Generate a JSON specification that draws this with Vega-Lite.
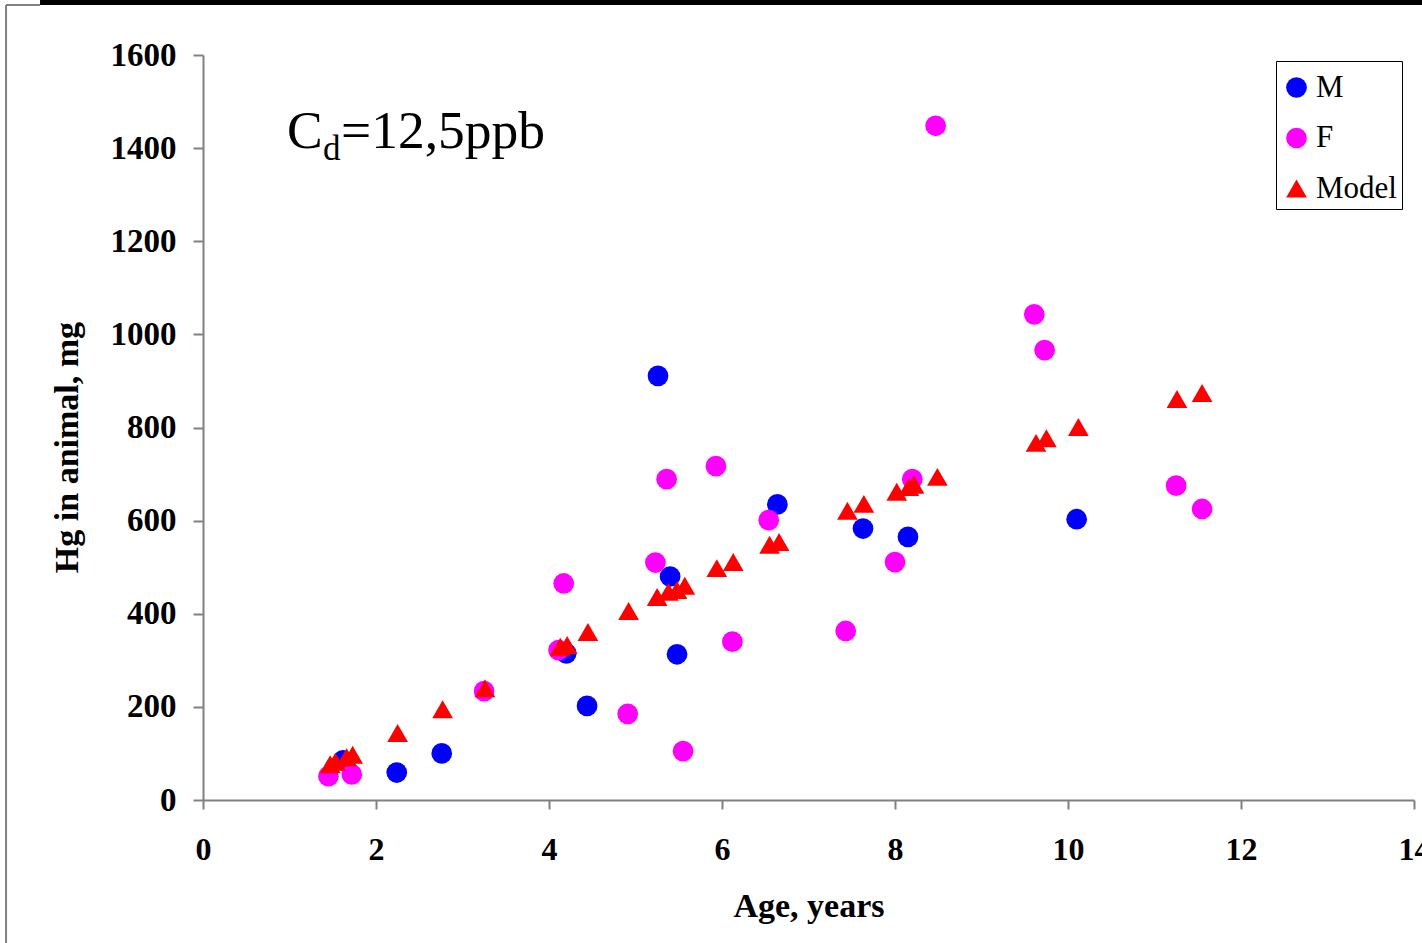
{
  "$schema": "https://vega.github.io/schema/vega-lite/v6.json",
  "width": 1211,
  "height": 745,
  "autosize": {"type": "none"},
  "padding": {"left": 203, "top": 55, "right": 8, "bottom": 143},
  "background": "white",
  "config": {"view": {"stroke": null}, "font": "Liberation Serif"},
  "datasets": {
    "points": [
      {"age": 1.62, "hg": 85, "series": "M"},
      {"age": 2.24, "hg": 59, "series": "M"},
      {"age": 2.76, "hg": 100, "series": "M"},
      {"age": 4.20, "hg": 315, "series": "M"},
      {"age": 4.44, "hg": 202, "series": "M"},
      {"age": 5.26, "hg": 911, "series": "M"},
      {"age": 5.40, "hg": 480, "series": "M"},
      {"age": 5.48, "hg": 313, "series": "M"},
      {"age": 6.64, "hg": 635, "series": "M"},
      {"age": 7.63, "hg": 583, "series": "M"},
      {"age": 8.15, "hg": 565, "series": "M"},
      {"age": 10.10, "hg": 603, "series": "M"},
      {"age": 1.45, "hg": 51, "series": "F"},
      {"age": 1.72, "hg": 55, "series": "F"},
      {"age": 3.25, "hg": 234, "series": "F"},
      {"age": 4.11, "hg": 322, "series": "F"},
      {"age": 4.17, "hg": 465, "series": "F"},
      {"age": 4.91, "hg": 185, "series": "F"},
      {"age": 5.23, "hg": 510, "series": "F"},
      {"age": 5.36, "hg": 689, "series": "F"},
      {"age": 5.55, "hg": 105, "series": "F"},
      {"age": 5.93, "hg": 717, "series": "F"},
      {"age": 6.12, "hg": 340, "series": "F"},
      {"age": 6.54, "hg": 601, "series": "F"},
      {"age": 7.43, "hg": 363, "series": "F"},
      {"age": 8.00, "hg": 511, "series": "F"},
      {"age": 8.20, "hg": 689, "series": "F"},
      {"age": 8.47, "hg": 1448, "series": "F"},
      {"age": 9.61, "hg": 1043, "series": "F"},
      {"age": 9.73, "hg": 966, "series": "F"},
      {"age": 11.25, "hg": 675, "series": "F"},
      {"age": 11.55, "hg": 625, "series": "F"},
      {"age": 1.47, "hg": 77, "series": "Model"},
      {"age": 1.53, "hg": 82, "series": "Model"},
      {"age": 1.66, "hg": 92, "series": "Model"},
      {"age": 1.73, "hg": 97, "series": "Model"},
      {"age": 2.25, "hg": 144, "series": "Model"},
      {"age": 2.77, "hg": 195, "series": "Model"},
      {"age": 3.26, "hg": 240, "series": "Model"},
      {"age": 4.13, "hg": 329, "series": "Model"},
      {"age": 4.21, "hg": 333, "series": "Model"},
      {"age": 4.45, "hg": 361, "series": "Model"},
      {"age": 4.92, "hg": 406, "series": "Model"},
      {"age": 5.25, "hg": 436, "series": "Model"},
      {"age": 5.38, "hg": 447, "series": "Model"},
      {"age": 5.48, "hg": 451, "series": "Model"},
      {"age": 5.57, "hg": 460, "series": "Model"},
      {"age": 5.94, "hg": 498, "series": "Model"},
      {"age": 6.13, "hg": 511, "series": "Model"},
      {"age": 6.55, "hg": 548, "series": "Model"},
      {"age": 6.66, "hg": 554, "series": "Model"},
      {"age": 7.45, "hg": 621, "series": "Model"},
      {"age": 7.64, "hg": 636, "series": "Model"},
      {"age": 8.02, "hg": 662, "series": "Model"},
      {"age": 8.16, "hg": 672, "series": "Model"},
      {"age": 8.22, "hg": 677, "series": "Model"},
      {"age": 8.49, "hg": 694, "series": "Model"},
      {"age": 9.63, "hg": 767, "series": "Model"},
      {"age": 9.75, "hg": 777, "series": "Model"},
      {"age": 10.12, "hg": 801, "series": "Model"},
      {"age": 11.26, "hg": 861, "series": "Model"},
      {"age": 11.55, "hg": 874, "series": "Model"}
    ]
  },
  "layer": [
    {
      "data": {"name": "points"},
      "mark": {"type": "point", "filled": true, "opacity": 1, "strokeWidth": 0},
      "encoding": {
        "x": {
          "field": "age", "type": "quantitative",
          "scale": {"domain": [0, 14], "nice": false, "zero": false},
          "axis": {
            "values": [0, 2, 4, 6, 8, 10, 12, 14],
            "format": "d",
            "grid": false,
            "domainColor": "#808080", "domainWidth": 2,
            "tickColor": "#808080", "tickWidth": 2, "tickSize": 9,
            "labelFont": "Liberation Serif", "labelFontWeight": "bold", "labelFontSize": 32, "labelColor": "black",
            "labelPadding": 25, "labelFlush": false, "labelOverlap": false, "labelBound": false,
            "title": "Age, years",
            "titleFont": "Liberation Serif", "titleFontWeight": "bold", "titleFontSize": 34, "titleColor": "black",
            "titleBaseline": "alphabetic", "titleY": 116
          }
        },
        "y": {
          "field": "hg", "type": "quantitative",
          "scale": {"domain": [0, 1600], "nice": false, "zero": false},
          "axis": {
            "values": [0, 200, 400, 600, 800, 1000, 1200, 1400, 1600],
            "format": "d",
            "grid": false,
            "domainColor": "#808080", "domainWidth": 2,
            "tickColor": "#808080", "tickWidth": 2, "tickSize": 10,
            "labelFont": "Liberation Serif", "labelFontWeight": "bold", "labelFontSize": 33, "labelColor": "black",
            "labelPadding": 17, "labelFlush": false, "labelOverlap": false, "labelBound": false,
            "title": "Hg in animal, mg",
            "titleFont": "Liberation Serif", "titleFontWeight": "bold", "titleFontSize": 34, "titleColor": "black",
            "titleBaseline": "alphabetic", "titleAlign": "center", "titleAngle": -90,
            "titleX": -126, "titleY": 392
          }
        },
        "color": {
          "field": "series", "type": "nominal",
          "scale": {"domain": ["M", "F", "Model"], "range": ["#0000FF", "#FF00FF", "#FF0000"]},
          "legend": {
            "title": " ", "titleFontSize": 4, "titlePadding": 2,
            "orient": "none", "legendX": 1073, "legendY": 6,
            "labelFont": "Liberation Serif", "labelFontSize": 31, "labelColor": "black",
            "labelOffset": 4,
            "strokeColor": "black", "fillColor": "white", "padding": 5,
            "rowPadding": 18.5, "symbolSize": 420, "symbolStrokeWidth": 0,
            "encode": {"symbols": {"update": {"size": {"signal": "datum.value === 'Model' ? 210 : 420"}}}}
          }
        },
        "shape": {
          "field": "series", "type": "nominal",
          "scale": {"domain": ["M", "F", "Model"], "range": ["circle", "circle", "triangle-up"]}
        },
        "size": {
          "field": "series", "type": "nominal",
          "scale": {"domain": ["M", "F", "Model"], "range": [430, 430, 235]},
          "legend": null
        }
      }
    },
    {
      "data": {"values": [{}]},
      "mark": {"type": "text", "text": "C", "font": "Liberation Serif", "fontSize": 53.5, "align": "left", "baseline": "alphabetic", "color": "black"},
      "encoding": {
        "x": {"datum": 0.971, "type": "quantitative", "scale": {"domain": [0, 14], "nice": false, "zero": false}},
        "y": {"datum": 1400, "type": "quantitative", "scale": {"domain": [0, 1600], "nice": false, "zero": false}}
      }
    },
    {
      "data": {"values": [{}]},
      "mark": {"type": "text", "text": "d", "font": "Liberation Serif", "fontSize": 35, "align": "left", "baseline": "alphabetic", "color": "black"},
      "encoding": {
        "x": {"datum": 1.387, "type": "quantitative", "scale": {"domain": [0, 14], "nice": false, "zero": false}},
        "y": {"datum": 1374, "type": "quantitative", "scale": {"domain": [0, 1600], "nice": false, "zero": false}}
      }
    },
    {
      "data": {"values": [{}]},
      "mark": {"type": "text", "text": "=12,5ppb", "font": "Liberation Serif", "fontSize": 53.5, "align": "left", "baseline": "alphabetic", "color": "black"},
      "encoding": {
        "x": {"datum": 1.595, "type": "quantitative", "scale": {"domain": [0, 14], "nice": false, "zero": false}},
        "y": {"datum": 1400, "type": "quantitative", "scale": {"domain": [0, 1600], "nice": false, "zero": false}}
      }
    },
    {
      "data": {"values": [{}]},
      "mark": {"type": "rule", "color": "#808080", "strokeWidth": 2},
      "encoding": {
        "x": {"datum": -2.277, "type": "quantitative", "scale": {"domain": [0, 14], "nice": false, "zero": false}},
        "y": {"datum": 1707.4, "type": "quantitative", "scale": {"domain": [0, 1600], "nice": false, "zero": false}},
        "y2": {"datum": -310}
      }
    },
    {
      "data": {"values": [{}]},
      "mark": {"type": "rule", "color": "#808080", "strokeWidth": 2},
      "encoding": {
        "x": {"datum": -2.277, "type": "quantitative", "scale": {"domain": [0, 14], "nice": false, "zero": false}},
        "x2": {"datum": -1.884},
        "y": {"datum": 1707.4, "type": "quantitative", "scale": {"domain": [0, 1600], "nice": false, "zero": false}}
      }
    },
    {
      "data": {"values": [{}]},
      "mark": {"type": "rule", "color": "black", "strokeWidth": 5},
      "encoding": {
        "x": {"datum": -1.884, "type": "quantitative", "scale": {"domain": [0, 14], "nice": false, "zero": false}},
        "x2": {"datum": 14.2},
        "y": {"datum": 1712.7, "type": "quantitative", "scale": {"domain": [0, 1600], "nice": false, "zero": false}}
      }
    }
  ]
}
